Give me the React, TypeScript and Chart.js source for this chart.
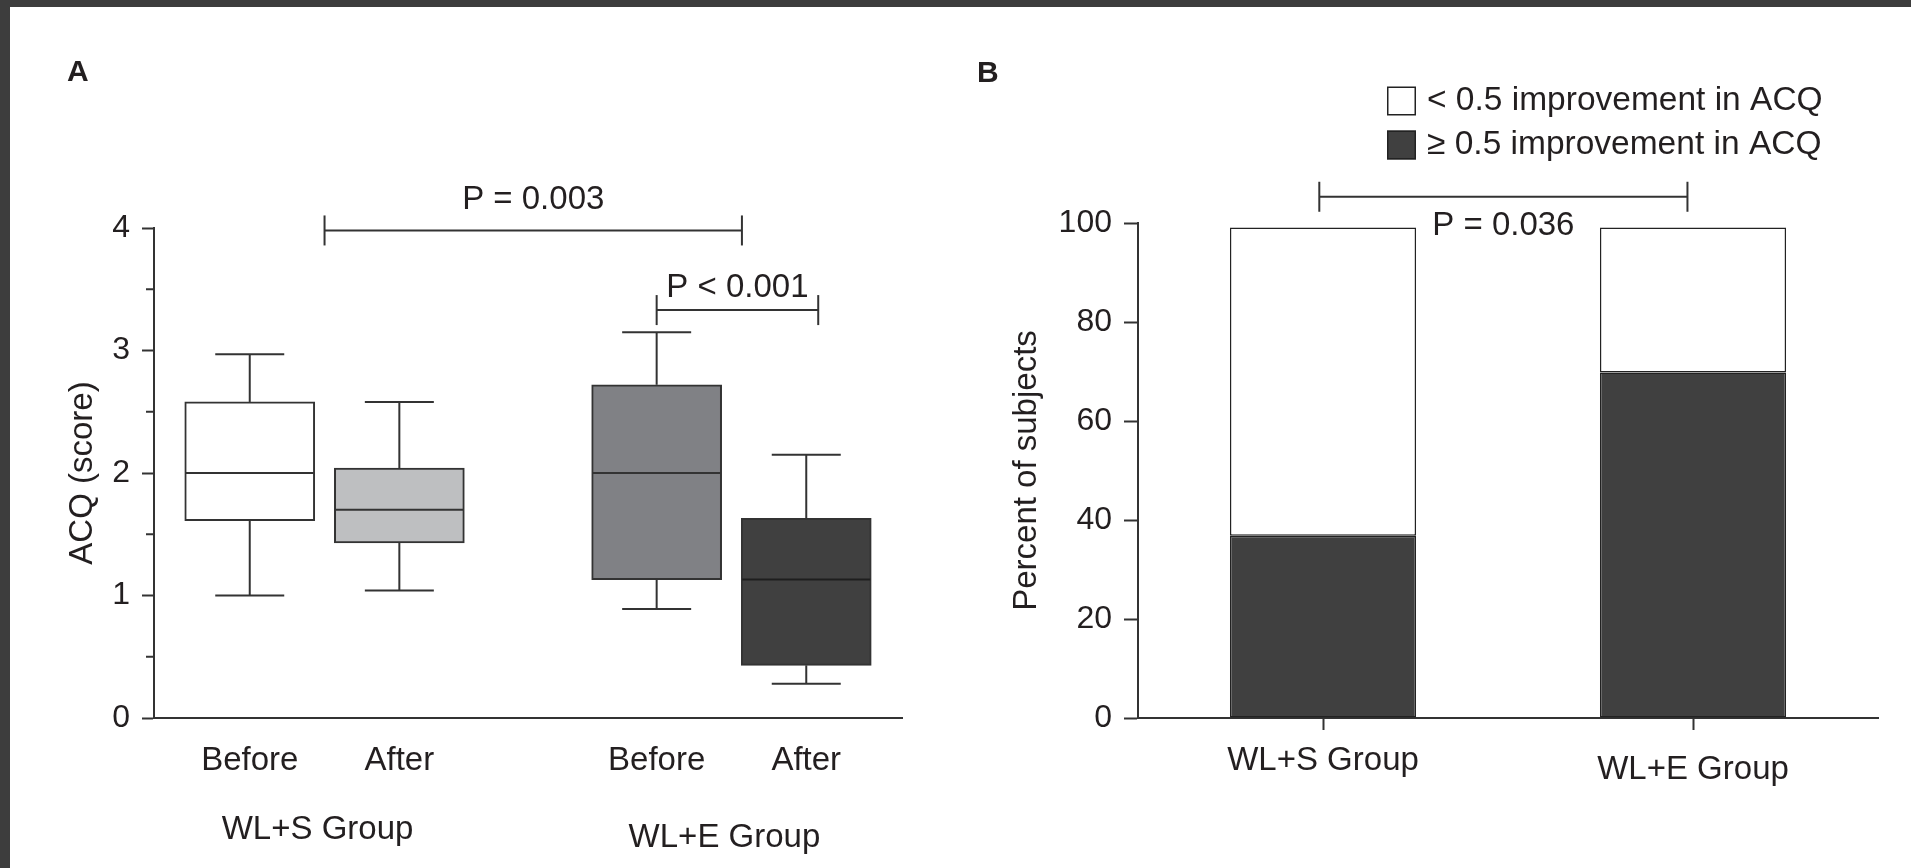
import React, { useEffect, useRef } from 'react';
import { Chart, registerables } from 'chart.js';

Chart.register(...registerables);

const FONT = '"Liberation Sans", Arial, Helvetica, sans-serif';
const INK = '#231f20';
const LINE = '#333333';
const DARK = '#404040';

// ---------- Panel A: ACQ score before / after, box plots ----------
const PHASES = ['Before', 'After', 'Before', 'After'];
const GROUPS_A = ['WL+S Group', 'WL+E Group'];
const BOX_X = [1, 2, 3.72, 4.72];
const ACQ_MIN = [1.0, 1.04, 0.89, 0.28];
const ACQ_Q1 = [1.61, 1.43, 1.13, 0.43];
const ACQ_MEDIAN = [2.0, 1.7, 2.0, 1.13];
const ACQ_Q3 = [2.58, 2.04, 2.72, 1.63];
const ACQ_MAX = [2.97, 2.58, 3.15, 2.15];
const ACQ_TICKS = [0, 1, 2, 3, 4];
const ACQ_MINOR_TICKS = [0.5, 1.5, 2.5, 3.5];

const SIG_A_LABELS = ['P = 0.003', 'P < 0.001'];
const SIG_A_SPANS = [[1.5, 4.29], [3.72, 4.8]];
const SIG_A_LEVELS = [3.98, 3.33];

// ---------- Panel B: share of subjects by ACQ improvement ----------
const GROUPS_B = ['WL+S Group', 'WL+E Group'];
const LEGEND_LABELS = ['< 0.5 improvement in ACQ', '\u2265 0.5 improvement in ACQ'];
const PCT_IMPROVED = [36.8, 69.8];
const PCT_NOT_IMPROVED = [62.3, 29.3];
const PCT_TICKS = [0, 20, 40, 60, 80, 100];

const SIG_B_LABELS = ['P = 0.036'];
const SIG_B_SPANS = [[-0.01, 0.985]];
const SIG_B_LEVELS = [105.3];

// styling (not data)
const BOX_FILLS = ['#ffffff', '#bebfc1', '#808185', DARK];
const MEDIAN_COLORS = [LINE, LINE, LINE, '#1e1e1e'];
const CAP_HALF = 34.5;
const SIG_A_TEXT_GAP = [21, 13];
const GROUP_A_LABEL_Y = [830, 838];
const LEGEND_ROWS_Y = [101, 145];
const TEXT_SIZE = 33;
const TICK_SIZE = 32;

type Ctx = CanvasRenderingContext2D;

function seg(ctx: Ctx, x1: number, y1: number, x2: number, y2: number) {
  ctx.beginPath();
  ctx.moveTo(x1, y1);
  ctx.lineTo(x2, y2);
  ctx.stroke();
}

function drawBracket(ctx: Ctx, x1: number, x2: number, y: number) {
  seg(ctx, x1, y, x2, y);
  seg(ctx, x1, y - 15, x1, y + 15);
  seg(ctx, x2, y - 15, x2, y + 15);
}

function text(ctx: Ctx, s: string, x: number, y: number, align: CanvasTextAlign, base: CanvasTextBaseline, font: string) {
  ctx.font = font;
  ctx.fillStyle = INK;
  ctx.textAlign = align;
  ctx.textBaseline = base;
  ctx.fillText(s, x, y);
}

const panelAExtras = {
  id: 'panelAExtras',
  afterDatasetsDraw(chart: any) {
    const { ctx, scales } = chart;
    const x = scales.x;
    const y = scales.y;
    const bars = chart.getDatasetMeta(0).data;
    ctx.save();
    ctx.lineWidth = 2;
    BOX_X.forEach((v, i) => {
      const cx = x.getPixelForValue(v);
      const half = bars[i].width / 2;
      const yMin = y.getPixelForValue(ACQ_MIN[i]);
      const yMax = y.getPixelForValue(ACQ_MAX[i]);
      ctx.strokeStyle = LINE;
      seg(ctx, cx, y.getPixelForValue(ACQ_Q3[i]), cx, yMax);
      seg(ctx, cx, y.getPixelForValue(ACQ_Q1[i]), cx, yMin);
      seg(ctx, cx - CAP_HALF, yMax, cx + CAP_HALF, yMax);
      seg(ctx, cx - CAP_HALF, yMin, cx + CAP_HALF, yMin);
      ctx.strokeStyle = MEDIAN_COLORS[i];
      const yMed = y.getPixelForValue(ACQ_MEDIAN[i]);
      seg(ctx, cx - half + 1, yMed, cx + half - 1, yMed);
    });
    ctx.restore();
  },
  afterDraw(chart: any) {
    const { ctx, scales, chartArea } = chart;
    const x = scales.x;
    const y = scales.y;
    ctx.save();
    ctx.strokeStyle = LINE;
    ctx.lineWidth = 2;
    // minor ticks on the score axis
    ACQ_MINOR_TICKS.forEach((v) => {
      const py = y.getPixelForValue(v);
      seg(ctx, chartArea.left - 8, py, chartArea.left, py);
    });
    // significance brackets
    SIG_A_LABELS.forEach((label, i) => {
      const x1 = x.getPixelForValue(SIG_A_SPANS[i][0]);
      const x2 = x.getPixelForValue(SIG_A_SPANS[i][1]);
      const py = y.getPixelForValue(SIG_A_LEVELS[i]);
      drawBracket(ctx, x1, x2, py);
      text(ctx, label, (x1 + x2) / 2, py - SIG_A_TEXT_GAP[i], 'center', 'alphabetic', `${TEXT_SIZE}px ${FONT}`);
    });
    // group names under the phase labels
    GROUPS_A.forEach((g, i) => {
      const cx = (x.getPixelForValue(BOX_X[2 * i]) + x.getPixelForValue(BOX_X[2 * i + 1])) / 2 - 7;
      text(ctx, g, cx, GROUP_A_LABEL_Y[i], 'center', 'middle', `${TEXT_SIZE}px ${FONT}`);
    });
    text(ctx, 'A', 67, 81, 'left', 'alphabetic', `bold 30px ${FONT}`);
    ctx.restore();
  },
};

const panelBExtras = {
  id: 'panelBExtras',
  afterDraw(chart: any) {
    const { ctx, scales } = chart;
    const x = scales.x;
    const y = scales.y;
    ctx.save();
    ctx.strokeStyle = LINE;
    ctx.lineWidth = 2;
    SIG_B_LABELS.forEach((label, i) => {
      const x1 = x.getPixelForValue(SIG_B_SPANS[i][0]);
      const x2 = x.getPixelForValue(SIG_B_SPANS[i][1]);
      const py = y.getPixelForValue(SIG_B_LEVELS[i]);
      drawBracket(ctx, x1, x2, py);
      text(ctx, label, (x1 + x2) / 2, py + 38, 'center', 'alphabetic', `${TEXT_SIZE}px ${FONT}`);
    });
    // legend, top entry is the upper stack segment
    const sets = chart.data.datasets.slice().reverse();
    sets.forEach((ds: any, i: number) => {
      const cy = LEGEND_ROWS_Y[i];
      ctx.fillStyle = ds.backgroundColor;
      ctx.fillRect(437, cy - 14.5, 29, 29);
      ctx.lineWidth = 1.5;
      ctx.strokeStyle = '#222';
      ctx.strokeRect(437.75, cy - 13.75, 27.5, 27.5);
      text(ctx, ds.label, 477, cy, 'left', 'middle', `33.5px ${FONT}`);
    });
    text(ctx, 'B', 27, 82, 'left', 'alphabetic', `bold 30px ${FONT}`);
    ctx.restore();
  },
};

export default function App() {
  const refA = useRef<HTMLCanvasElement>(null);
  const refB = useRef<HTMLCanvasElement>(null);

  useEffect(() => {
    const axisBorder = { display: true, color: LINE, width: 2 };
    const tickFont = { family: FONT, size: TICK_SIZE };
    const labelFont = { family: FONT, size: TEXT_SIZE };

    const chartA = new Chart(refA.current!, {
      type: 'bar',
      data: {
        datasets: [
          {
            label: 'ACQ (score)',
            data: BOX_X.map((v, i) => ({ x: v, y: [ACQ_Q1[i], ACQ_Q3[i]] })) as any,
            backgroundColor: BOX_FILLS,
            borderColor: LINE,
            borderWidth: 2,
            borderSkipped: false,
            barThickness: 130,
          },
        ],
      },
      options: {
        responsive: false,
        animation: false,
        events: [],
        layout: { padding: { left: 63, right: 48, top: 228, bottom: 0 } },
        plugins: { legend: { display: false }, tooltip: { enabled: false } },
        scales: {
          x: {
            type: 'linear',
            min: 0.36,
            max: 5.36,
            offset: false,
            afterBuildTicks: (s: any) => {
              s.ticks = BOX_X.map((v) => ({ value: v }));
            },
            afterFit: (s: any) => {
              s.height = 150;
            },
            ticks: {
              callback: (_v: any, i: number) => PHASES[i],
              font: labelFont,
              color: INK,
              padding: 23,
              maxRotation: 0,
              autoSkip: false,
            },
            grid: { display: false, drawTicks: false },
            border: axisBorder,
          },
          y: {
            min: 0,
            max: 4,
            afterBuildTicks: (s: any) => {
              s.ticks = ACQ_TICKS.map((v) => ({ value: v }));
            },
            afterFit: (s: any) => {
              s.width = 91;
            },
            ticks: { font: tickFont, color: INK, padding: 12 },
            grid: { drawOnChartArea: false, drawTicks: true, tickLength: 12, tickWidth: 2, tickColor: LINE },
            border: axisBorder,
            title: { display: true, text: 'ACQ (score)', font: labelFont, color: INK, padding: 0 },
          },
        },
      } as any,
      plugins: [panelAExtras],
    });

    const chartB = new Chart(refB.current!, {
      type: 'bar',
      data: {
        labels: GROUPS_B,
        datasets: [
          {
            label: LEGEND_LABELS[1],
            data: PCT_IMPROVED,
            backgroundColor: DARK,
            borderColor: '#222',
            borderWidth: 1.5,
            borderSkipped: false,
          },
          {
            label: LEGEND_LABELS[0],
            data: PCT_NOT_IMPROVED,
            backgroundColor: '#ffffff',
            borderColor: '#222',
            borderWidth: 1.5,
            borderSkipped: false,
          },
        ],
      },
      options: {
        responsive: false,
        animation: false,
        events: [],
        datasets: { bar: { barPercentage: 1, categoryPercentage: 0.503 } },
        layout: { padding: { left: 57, right: 33, top: 223, bottom: 0 } },
        plugins: { legend: { display: false }, tooltip: { enabled: false } },
        scales: {
          x: {
            stacked: true,
            afterFit: (s: any) => {
              s.height = 150;
            },
            ticks: {
              // the second group name sits a little lower than the first
              font: (c: any) => ({ family: FONT, size: TEXT_SIZE, lineHeight: c.index === 1 ? 1.75 : 1.2 }),
              color: INK,
              padding: 11,
              maxRotation: 0,
            },
            grid: {
              offset: false,
              drawOnChartArea: false,
              drawTicks: true,
              tickLength: 12,
              tickWidth: 2,
              tickColor: LINE,
            },
            border: axisBorder,
          },
          y: {
            stacked: true,
            min: 0,
            max: 100,
            afterBuildTicks: (s: any) => {
              s.ticks = PCT_TICKS.map((v) => ({ value: v }));
            },
            afterFit: (s: any) => {
              s.width = 131;
            },
            ticks: { font: tickFont, color: INK, padding: 12 },
            grid: { drawOnChartArea: false, drawTicks: true, tickLength: 14, tickWidth: 2, tickColor: LINE },
            border: axisBorder,
            title: { display: true, text: 'Percent of subjects', font: labelFont, color: INK, padding: 0 },
          },
        },
      } as any,
      plugins: [panelBExtras],
    });

    return () => {
      chartA.destroy();
      chartB.destroy();
    };
  }, []);

  return (
    <div style={{ position: 'fixed', left: 0, top: 0, width: 1911, height: 868, background: '#3d3d3d', overflow: 'hidden' }}>
      <div style={{ position: 'absolute', left: 10, top: 7, right: 0, bottom: 0, background: '#ffffff' }} />
      <canvas ref={refA} width={950} height={868} style={{ position: 'absolute', left: 0, top: 0 }} />
      <canvas ref={refB} width={961} height={868} style={{ position: 'absolute', left: 950, top: 0 }} />
    </div>
  );
}
